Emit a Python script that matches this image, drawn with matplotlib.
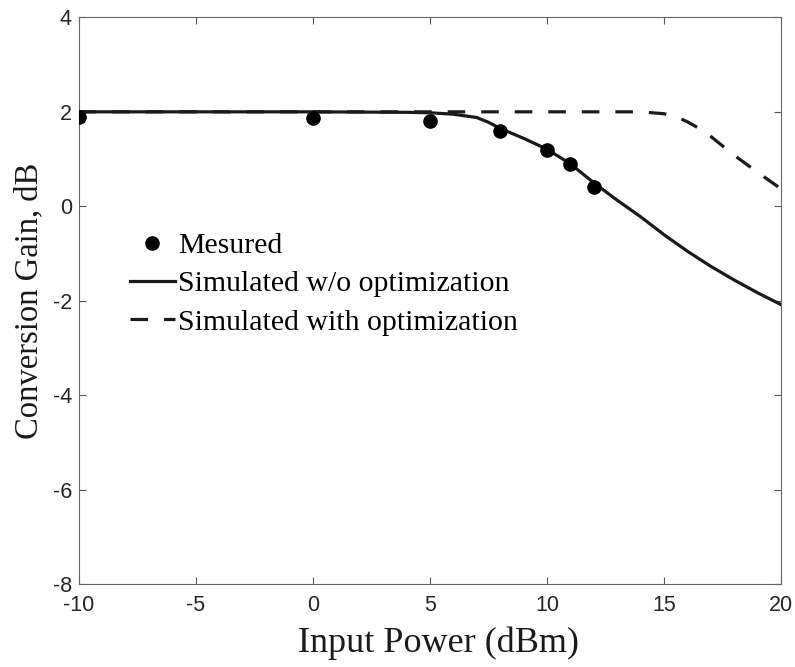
import numpy as np
import matplotlib.pyplot as plt

plt.rcParams['axes.unicode_minus'] = False

# measured points
meas_x = [-10, 0, 5, 8, 10, 11, 12]
meas_y = [1.9, 1.88, 1.8, 1.6, 1.2, 0.9, 0.4]

# simulated without optimization
sim_x = [-10, 0, 4, 5, 6, 7, 7.5, 8, 9, 10, 11, 12, 13, 14, 15, 16, 17, 18, 19, 20]
sim_y = [2.0, 2.0, 1.99, 1.98, 1.95, 1.88, 1.78, 1.65, 1.44, 1.21, 0.9, 0.5, 0.13, -0.22,
         -0.6, -0.95, -1.27, -1.56, -1.83, -2.08]

# simulated with optimization
opt_x = [-10, 0, 10, 14, 15, 15.5, 16, 16.5, 17, 18, 19, 20]
opt_y = [2.0, 2.0, 2.0, 2.0, 1.96, 1.9, 1.79, 1.65, 1.48, 1.08, 0.72, 0.37]

fig = plt.figure(figsize=(7.95, 6.67), dpi=100)
ax = fig.add_axes([0.099, 0.124, 0.8834, 0.850])

ax.plot(meas_x, meas_y, 'o', color='black', markersize=9.5, label='Mesured', zorder=3)
ax.plot(sim_x, sim_y, '-', color='#1a1a1a', lw=2.3, label='Simulated w/o optimization')
ax.plot(opt_x, opt_y, '--', color='#1a1a1a', lw=2.3, dashes=(5.5, 5.0),
        label='Simulated with optimization')

ax.set_xlim(-10, 20)
ax.set_ylim(-8, 4)
ax.set_xticks(np.arange(-10, 21, 5))
ax.set_yticks(np.arange(-8, 5, 2))

ax.tick_params(direction='in', length=5, width=0.8, color='#555555',
               top=True, right=True, labelsize=15.5, labelcolor='#262626', pad=5)
ax.tick_params(axis='x', pad=8)
for lab in ax.get_xticklabels() + ax.get_yticklabels():
    lab.set_family('Liberation Sans')
for s in ax.spines.values():
    s.set_color('#666666')
    s.set_linewidth(0.8)

ax.set_xlabel('Input Power (dBm)', family='Liberation Serif', fontsize=26, color='#1a1a1a', labelpad=10)
ax.xaxis.set_label_coords(0.512, -0.075)
ax.set_ylabel('Conversion Gain, dB', family='Liberation Serif', fontsize=23.5, color='#1a1a1a', labelpad=6)

leg = ax.legend(loc='upper left', bbox_to_anchor=(0.073, 0.621), frameon=False,
                prop={'family': 'Liberation Serif', 'size': 21.5},
                handlelength=1.5, handletextpad=0.1, labelspacing=0.38,
                borderaxespad=0, borderpad=0)

fig.savefig('out.png', dpi=100)
